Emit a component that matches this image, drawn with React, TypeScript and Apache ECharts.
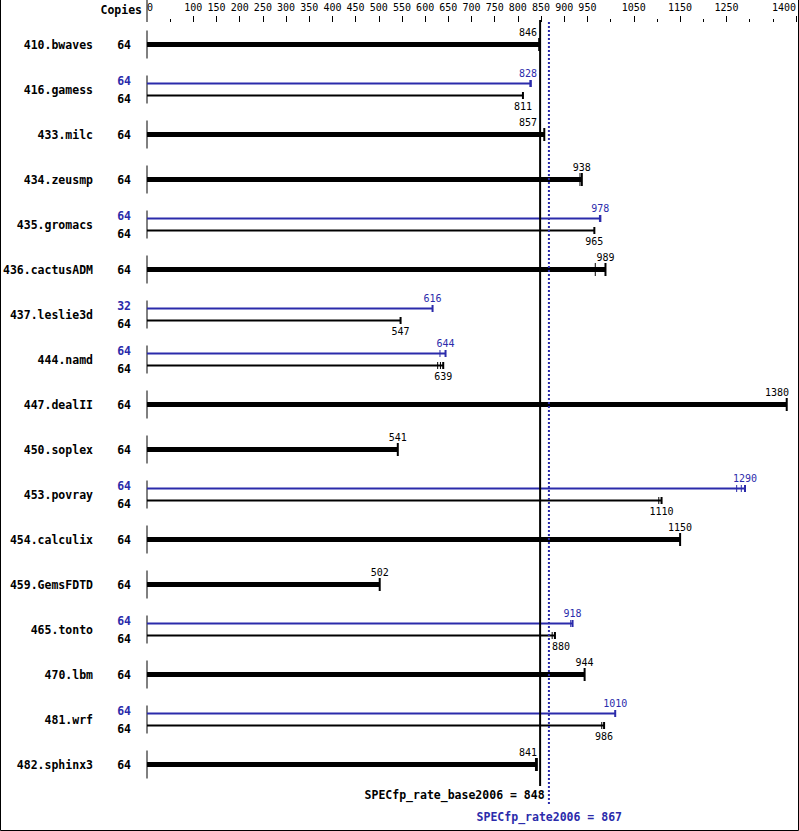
import React, { useEffect, useRef } from "react";
import * as echarts from "echarts";

const benchmarks = [
  "410.bwaves", "416.gamess", "433.milc", "434.zeusmp", "435.gromacs", "436.cactusADM",
  "437.leslie3d", "444.namd", "447.dealII", "450.soplex", "453.povray", "454.calculix",
  "459.GemsFDTD", "465.tonto", "470.lbm", "481.wrf", "482.sphinx3",
];
const baseCopies = [64, 64, 64, 64, 64, 64, 64, 64, 64, 64, 64, 64, 64, 64, 64, 64, 64];
const peakCopies: (number | null)[] = [null, 64, null, null, 64, null, 32, 64, null, null, 64, null, null, 64, null, 64, null];
const baseRatios = [846, 811, 857, 938, 965, 989, 547, 639, 1380, 541, 1110, 1150, 502, 880, 944, 986, 841];
const peakRatios: (number | null)[] = [null, 828, null, null, 978, null, 616, 644, null, null, 1290, null, null, 918, null, 1010, null];
// other run results visible as extra tick marks
const baseRunTicks: number[][] = [[], [], [], [934], [], [967], [], [627, 633], [], [], [1104], [], [], [874], [], [981], [838]];
const peakRunTicks: number[][] = [[], [826], [], [], [976], [], [], [632], [], [], [1272, 1282], [], [], [914], [], [], []];

const baseOverall = 848;
const peakOverall = 867;
const baseLabel = "SPECfp_rate_base2006";
const peakLabel = "SPECfp_rate2006";

const labeledTicks = [0, 100, 150, 200, 250, 300, 350, 400, 450, 500, 550, 600, 650, 700, 750, 800, 850, 900, 950, 1050, 1150, 1250, 1400];
const longTicks = [100, 150, 200, 250, 300, 350, 400, 450, 500, 550, 600, 650, 700, 750, 800, 850, 900, 950, 1050, 1150, 1250, 1400];
const shortTicks = [50, 1000, 1100, 1200, 1300, 1350];

const BLUE = "#2b2bab";
const MONO = '"DejaVu Sans Mono", "Liberation Mono", monospace';

export default function App() {
  const ref = useRef<HTMLDivElement>(null);
  useEffect(() => {
    if (!ref.current) return;
    const chart = echarts.init(ref.current, null, { renderer: "svg" });

    const labelX = (api: any, value: number, text: string) => {
      const w = text.length * 6.02;
      let cx = api.coord([value, 0])[0];
      const bx = api.coord([baseOverall, 0])[0];
      const px = api.coord([peakOverall, 0])[0];
      if (cx + w / 2 > bx - 3 && cx - w / 2 < px + 3) {
        if (cx < px) cx = bx - 3 - w / 2;
        else cx = px + 3 + w / 2;
      }
      if (cx + w / 2 > 789) cx = 789 - w / 2;
      return cx;
    };

    const txt = (text: string, x: number, y: number, fill: string, align: string, bold: boolean, size: number) => ({
      type: "text",
      style: {
        text, x, y, fill, align, verticalAlign: "middle",
        font: `${bold ? "bold " : ""}${size}px ${MONO}`,
      },
    });
    const ln = (x1: number, y1: number, x2: number, y2: number, stroke: string, lineWidth: number, lineDash?: number[]) => ({
      type: "line",
      shape: { x1, y1, x2, y2 },
      style: { stroke, lineWidth, lineDash },
    });

    const renderRow = (params: any, api: any) => {
      const i = api.value(0);
      const [x0, cy] = api.coord([0, i + 0.5]);
      const children: any[] = [];
      children.push(ln(x0, cy - 14, x0, cy + 14, "#000", 1));
      children.push(txt(benchmarks[i], 93, cy, "#000", "right", true, 11.5));
      const base = baseRatios[i];
      const peak = peakRatios[i];
      const bEnd = api.coord([base, 0])[0];
      if (peak == null) {
        children.push(ln(x0, cy, bEnd, cy, "#000", 5));
        children.push(ln(bEnd, cy - 6.5, bEnd, cy + 6.5, "#000", 2));
        baseRunTicks[i].forEach((v) => {
          const x = api.coord([v, 0])[0];
          children.push(ln(x, cy - 6.5, x, cy + 6.5, "#000", 1));
        });
        children.push(txt(String(base), labelX(api, base, String(base)), cy - 12.5, "#000", "center", false, 10));
        children.push(txt(String(baseCopies[i]), 131, cy, "#000", "right", true, 11.5));
      } else {
        const py = cy - 6;
        const by = cy + 6;
        const pEnd = api.coord([peak, 0])[0];
        children.push(ln(x0, py, pEnd, py, BLUE, 2));
        children.push(ln(pEnd, py - 3.5, pEnd, py + 3.5, BLUE, 2));
        peakRunTicks[i].forEach((v) => {
          const x = api.coord([v, 0])[0];
          children.push(ln(x, py - 3.5, x, py + 3.5, BLUE, 1));
        });
        children.push(ln(x0, by, bEnd, by, "#000", 2));
        children.push(ln(bEnd, by - 3.5, bEnd, by + 3.5, "#000", 2));
        baseRunTicks[i].forEach((v) => {
          const x = api.coord([v, 0])[0];
          children.push(ln(x, by - 3.5, x, by + 3.5, "#000", 1));
        });
        children.push(txt(String(peak), labelX(api, peak, String(peak)), cy - 16, BLUE, "center", false, 10));
        children.push(txt(String(base), labelX(api, base, String(base)), cy + 17, "#000", "center", false, 10));
        children.push(txt(String(peakCopies[i]), 131, cy - 9, BLUE, "right", true, 11.5));
        children.push(txt(String(baseCopies[i]), 131, cy + 9, "#000", "right", true, 11.5));
      }
      return { type: "group", children };
    };

    const renderOverall = (params: any, api: any) => {
      const [bx, top] = api.coord([baseOverall, 0]);
      const px = api.coord([peakOverall, 0])[0];
      return {
        type: "group",
        children: [
          ln(bx, top - 2, bx, 786, "#000", 2),
          ln(px, top, px, 806, BLUE, 2, [2, 2]),
          txt(`${baseLabel} = ${baseOverall}`, bx + 4.5, 795, "#000", "right", true, 11.5),
          txt(`${peakLabel} = ${peakOverall}`, 622, 817, BLUE, "right", true, 11.5),
        ],
      };
    };

    chart.setOption({
      animation: false,
      backgroundColor: "#fff",
      grid: { left: 147, top: 22, width: 650, height: 765, containLabel: false },
      xAxis: [
        {
          type: "value", position: "top", min: 0, max: 1400, interval: 50,
          axisLine: { show: false }, splitLine: { show: false },
          axisTick: { show: true, length: 6, customValues: longTicks, lineStyle: { color: "#000", width: 1 } },
          axisLabel: {
            customValues: labeledTicks, color: "#000", fontFamily: MONO, fontSize: 10, margin: 10,
            alignMinLabel: "left", alignMaxLabel: "right",
            formatter: (v: number) => String(v),
          },
        },
        {
          type: "value", position: "top", min: 0, max: 1400, interval: 50,
          axisLine: { show: false }, splitLine: { show: false },
          axisTick: { show: true, length: 3, customValues: shortTicks, lineStyle: { color: "#000", width: 1 } },
          axisLabel: { show: false },
        },
      ],
      yAxis: { type: "value", min: 0, max: 17, inverse: true, show: false },
      graphic: [
        { type: "polyline", shape: { points: [[0.5, 0], [0.5, 830.5], [798.5, 830.5], [798.5, 0]] }, style: { stroke: "#000", lineWidth: 1, fill: "none" } },
        { type: "line", shape: { x1: 147, y1: 0, x2: 147, y2: 22 }, style: { stroke: "#000", lineWidth: 1 } },
        { type: "text", x: 142, y: 10, style: { text: "Copies", align: "right", verticalAlign: "middle", fill: "#000", font: `bold 11.5px ${MONO}` } },
      ],
      series: [
        {
          type: "custom", xAxisIndex: 0, yAxisIndex: 0, clip: false,
          data: benchmarks.map((_, i) => [i]),
          renderItem: renderRow,
        },
        {
          type: "custom", xAxisIndex: 0, yAxisIndex: 0, clip: false,
          data: [[0]],
          renderItem: renderOverall,
        },
      ],
    });
    return () => chart.dispose();
  }, []);
  return <div ref={ref} style={{ position: "fixed", left: 0, top: 0, width: 799, height: 831, background: "#fff" }} />;
}
